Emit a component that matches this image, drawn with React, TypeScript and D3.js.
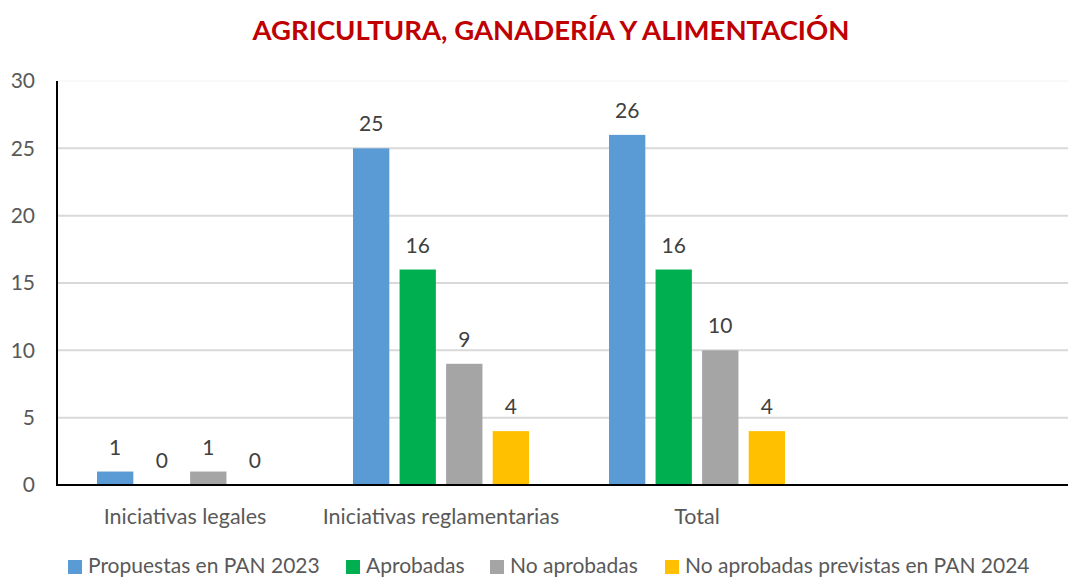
import React from "react";
import * as d3 from "d3";

const categories = ["Iniciativas legales", "Iniciativas reglamentarias", "Total", ""];
const seriesNames = [
  "Propuestas en PAN 2023",
  "Aprobadas",
  "No aprobadas",
  "No aprobadas previstas en PAN 2024",
];
const seriesColors = ["#5B9BD5", "#00B050", "#A5A5A5", "#FFC000"];
const propuestas = [1, 25, 26];
const aprobadas = [0, 16, 16];
const noAprobadas = [1, 9, 10];
const previstas2024 = [0, 4, 4];
const yTicks = [0, 5, 10, 15, 20, 25, 30];

const W = 1068;
const H = 579;
const FONT = "Lato, 'Open Sans', sans-serif";

export default function App() {
  const series = [propuestas, aprobadas, noAprobadas, previstas2024];

  const x = d3.scaleBand<string>().domain(categories).range([57, 1081]);
  const xInner = d3
    .scaleBand<number>()
    .domain(d3.range(series.length))
    .range([40, x.bandwidth() - 40])
    .paddingInner(0.22);
  const y = d3.scaleLinear().domain([0, 30]).range([485, 81]);

  // legend layout (x of each square)
  const legendX = [68, 346, 490, 665];

  return (
    <svg
      width={W}
      height={H}
      style={{ position: "absolute", left: 0, top: 0, background: "#fff" }}
      fontFamily={FONT}
    >
      <text
        x={551}
        y={40}
        textAnchor="middle"
        fontSize={27.5}
        fontWeight="bold"
        fill="#C00000"
      >
        AGRICULTURA, GANADERÍA Y ALIMENTACIÓN
      </text>

      {/* gridlines */}
      {yTicks.map((t) => (
        <line
          key={t}
          x1={57}
          x2={1081}
          y1={y(t)}
          y2={y(t)}
          stroke={t === 30 ? "#f2f2f2" : "#d9d9d9"}
          strokeWidth={t === 30 ? 1 : 2}
        />
      ))}
      {yTicks.map((t) => (
        <text
          key={"l" + t}
          x={35}
          y={y(t)}
          dy="0.35em"
          textAnchor="end"
          fontSize={21}
          fill="#595959"
        >
          {t}
        </text>
      ))}

      {/* bars */}
      {categories.slice(0, 3).map((c, ci) => (
        <g key={c} transform={`translate(${x(c)},0)`}>
          {series.map((s, si) => (
            <g key={si}>
              {s[ci] > 0 && (
                <rect
                  x={xInner(si)}
                  y={y(s[ci])}
                  width={xInner.bandwidth()}
                  height={y(0) - y(s[ci])}
                  fill={seriesColors[si]}
                />
              )}
              <text
                x={(xInner(si) as number) + xInner.bandwidth() / 2}
                y={y(s[ci]) - 17}
                textAnchor="middle"
                fontSize={21}
                fill="#404040"
              >
                {s[ci]}
              </text>
            </g>
          ))}
        </g>
      ))}

      {/* axes */}
      <line x1={57} x2={57} y1={y(30)} y2={y(0) + 1} stroke="#000" strokeWidth={2} />
      <line x1={56} x2={1081} y1={y(0)} y2={y(0)} stroke="#000" strokeWidth={2} />

      {categories.map((c) => (
        <text
          key={"c" + c}
          x={(x(c) as number) + x.bandwidth() / 2}
          y={524}
          textAnchor="middle"
          fontSize={21.5}
          fill="#595959"
        >
          {c}
        </text>
      ))}

      {/* legend */}
      {seriesNames.map((n, i) => (
        <g key={n}>
          <rect x={legendX[i]} y={560} width={14} height={14} fill={seriesColors[i]} />
          <text x={legendX[i] + 20} y={573} fontSize={21} fill="#595959">
            {n}
          </text>
        </g>
      ))}
    </svg>
  );
}
